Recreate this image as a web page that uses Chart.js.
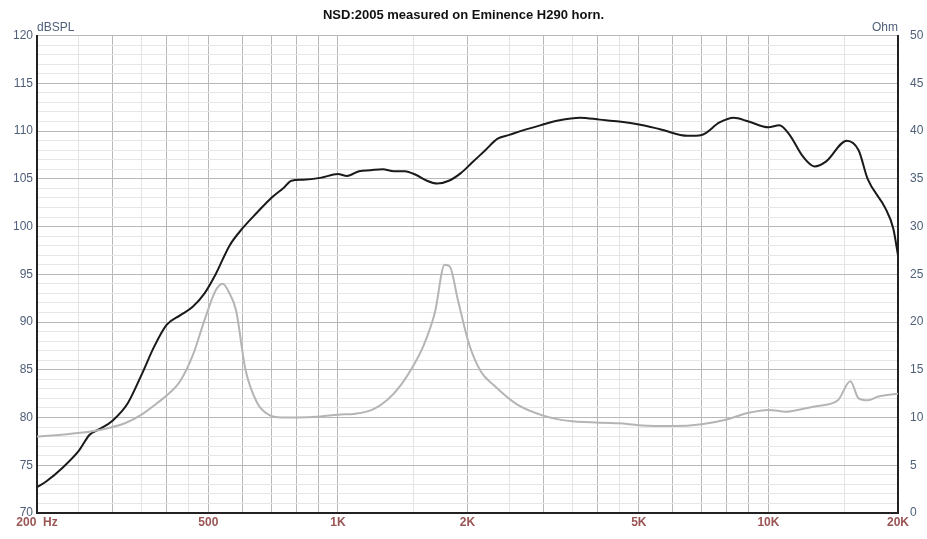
<!DOCTYPE html>
<html><head><meta charset="utf-8">
<script src="https://cdn.jsdelivr.net/npm/chart.js@4.4.0/dist/chart.umd.min.js"></script>
<style>html,body{margin:0;padding:0;background:#fff}#w{width:927px;height:539px}</style>
</head><body><div id="w"><canvas id="c"></canvas></div>
<script>
const splFreq=[200,210,230,250,265,280,300,325,350,375,400,430,460,490,520,560,600,650,700,750,780,830,910,1000,1050,1120,1190,1270,1350,1430,1520,1610,1700,1810,1930,2050,2200,2350,2500,2700,2950,3250,3650,4060,4500,5000,5600,6500,7000,7700,8300,9000,10000,10600,11200,12000,12800,13600,15200,16200,17000,18700,19500,20000];
const splVals=[72.7,73.3,74.8,76.5,78.2,78.8,79.7,81.5,84.5,87.5,89.7,90.7,91.6,93.0,95.0,98.0,99.8,101.5,103.0,104.1,104.8,104.9,105.1,105.5,105.3,105.8,105.9,106.0,105.8,105.8,105.4,104.8,104.5,104.8,105.6,106.7,108.0,109.2,109.6,110.1,110.6,111.1,111.4,111.2,111.0,110.7,110.2,109.5,109.6,110.9,111.4,111.0,110.4,110.6,109.6,107.4,106.3,106.8,109.0,108.0,105.0,101.9,99.8,97.0];
const impFreq=[200,240,280,320,350,380,400,430,460,490,520,540,560,580,610,650,690,740,800,910,1000,1100,1200,1300,1400,1500,1580,1680,1770,1820,1900,2020,2150,2300,2600,3000,3500,4500,5000,6000,7000,8000,9000,10000,11000,12000,13000,14500,15500,16200,17000,18000,20000];
const impVals=[8.0,8.3,8.7,9.4,10.3,11.5,12.3,13.8,16.5,20.2,23.3,24.0,23.0,21.2,15.0,11.5,10.3,10.0,10.0,10.1,10.3,10.4,10.8,11.8,13.4,15.5,17.5,21.0,26.0,25.8,22.3,17.6,14.8,13.4,11.4,10.2,9.6,9.4,9.2,9.1,9.3,9.8,10.5,10.8,10.6,10.9,11.2,11.8,13.8,12.0,11.8,12.2,12.5];
const gridFreqs=[200,250,300,350,400,450,500,600,700,800,900,1000,1500,2000,2500,3000,3500,4000,4500,5000,6000,7000,8000,9000,10000,15000,20000];
const xLabels={200:'200  Hz',500:'500',1000:'1K',2000:'2K',5000:'5K',10000:'10K',20000:'20K'};
const light=[250,350,450,1500,2500,3500,4500,15000];
new Chart(document.getElementById('c'),{
 type:'line',
 data:{datasets:[
  {data:impFreq.map((f,i)=>({x:f,y:impVals[i]})),yAxisID:'y1',borderColor:'#b5b5b5',borderWidth:2,pointRadius:0,cubicInterpolationMode:'monotone'},
  {data:splFreq.map((f,i)=>({x:f,y:splVals[i]})),yAxisID:'y',borderColor:'#1a1a1a',borderWidth:2,pointRadius:0,cubicInterpolationMode:'monotone'}
 ]},
 options:{responsive:true,maintainAspectRatio:false,animation:false,
  layout:{padding:0},
  plugins:{legend:{display:false},tooltip:{enabled:false},
   title:{display:true,text:'NSD:2005 measured on Eminence H290 horn.',color:'#111',font:{family:'Liberation Sans',size:13,weight:'bold'},padding:{top:8,bottom:12}}},
  scales:{
   x:{type:'logarithmic',min:200,max:20000,
    afterBuildTicks:s=>{s.ticks=gridFreqs.map(v=>({value:v}));},
    afterFit:s=>{s.height=26;},
    ticks:{autoSkip:false,maxRotation:0,color:'#9a5555',font:{family:'Liberation Sans',size:12,weight:'bold'},padding:2,callback:v=>xLabels[v]||''},
    grid:{color:c=>light.includes(c.tick.value)?'#e4e4e4':'#b8b8b8',drawTicks:false},
    border:{color:'#222',width:2}},
   y:{position:'left',min:70,max:120,
    afterBuildTicks:s=>{const t=[];for(let v=70;v<=120;v++)t.push({value:v});s.ticks=t;},
    afterFit:s=>{s.width=37;},
    ticks:{autoSkip:false,color:'#50607a',font:{family:'Liberation Sans',size:12},padding:4,callback:v=>v%5===0?v:''},
    grid:{color:c=>c.tick.value%5===0?'#b8b8b8':'#e6e6e6',drawTicks:false},
    border:{color:'#222',width:2}},
   y1:{position:'right',min:0,max:50,
    afterBuildTicks:s=>{const t=[];for(let v=0;v<=50;v+=5)t.push({value:v});s.ticks=t;},
    afterFit:s=>{s.width=29;},
    ticks:{autoSkip:false,color:'#50607a',font:{family:'Liberation Sans',size:12},padding:4},
    grid:{display:false},border:{color:'#222',width:2}}
  }},
 plugins:[{id:'ax',afterDraw(ch){const x=ch.ctx,a=ch.chartArea;x.save();x.font='12px Liberation Sans';x.fillStyle='#50607a';x.textBaseline='bottom';x.textAlign='left';x.fillText('dBSPL',a.left,a.top-2);x.textAlign='right';x.fillText('Ohm',a.right,a.top-2);x.restore();}}]
});
</script></body></html>
